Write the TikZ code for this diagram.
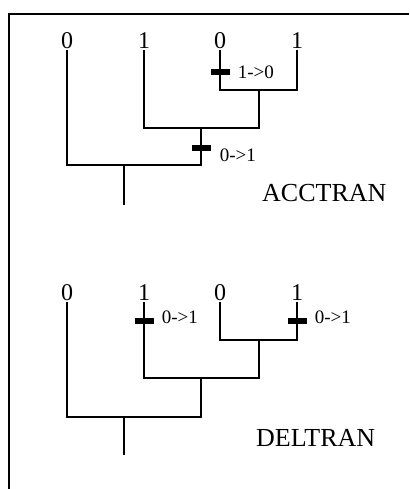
\documentclass[tikz,border=0pt]{standalone}
\usepackage{fontspec}
\setmainfont{Liberation Serif}
\usepackage{tikz}
\usetikzlibrary{positioning}

\begin{document}
\begin{tikzpicture}[
        x=1pt, y=-1pt,
        state/.style={
            inner sep=1pt,
            anchor=south,
            font=\fontsize{24}{24}\selectfont
        },
        branch/.style={
            line width=2pt
        },
        tickbar/.style={
            fill=black,
            inner sep=0pt,
            minimum width=19pt,
            minimum height=6pt
        },
        change/.style={
            anchor=west,
            inner sep=0pt,
            font=\fontsize{19}{19}\selectfont
        },
        method/.style={
            anchor=west,
            inner sep=0pt,
            font=\fontsize{26}{26}\selectfont
        }
    ]
    \useasboundingbox (0,0) rectangle (409,489);

    % frame
    \draw[line width=2.5pt] (9,489) -- (9,14) -- (409,14);

    % ACCTRAN tree
    \node[state] (a1) at (67,50) {0};
    \node[state] (a2) at (144,50) {1};
    \node[state] (a3) at (220,50) {0};
    \node[state] (a4) at (297,50) {1};
    \coordinate (an1) at (259,90);
    \coordinate (an2) at (201,128);
    \coordinate (an3) at (124,165);
    \coordinate (aroot) at (124,205);

    \draw[branch] (a3.south) |- (an1) -| (a4.south);
    \draw[branch] (an1) |- (an2) -| (a2.south);
    \draw[branch] (an2) |- (an3) -| (a1.south);
    \draw[branch] (an3) -- (aroot);

    \node[tickbar] (am1) at (220,72) {};
    \node[change, right=8pt of am1] (ac1) {1->0};
    \node[tickbar] (am2) at (201,148) {};
    \node[change, right=9pt of am2, yshift=-7pt] (ac2) {0->1};

    \node[method] (acc) at (262,193) {ACCTRAN};

    % DELTRAN tree
    \node[state] (d1) at (67,302) {0};
    \node[state] (d2) at (144,302) {1};
    \node[state] (d3) at (220,302) {0};
    \node[state] (d4) at (297,302) {1};
    \coordinate (dn1) at (259,340);
    \coordinate (dn2) at (201,378);
    \coordinate (dn3) at (124,417);
    \coordinate (droot) at (124,455);

    \draw[branch] (d3.south) |- (dn1) -| (d4.south);
    \draw[branch] (dn1) |- (dn2) -| (d2.south);
    \draw[branch] (dn2) |- (dn3) -| (d1.south);
    \draw[branch] (dn3) -- (droot);

    \node[tickbar] (dm1) at (144,321) {};
    \node[change, right=8pt of dm1, yshift=4pt] (dc1) {0->1};
    \node[tickbar] (dm2) at (297,321) {};
    \node[change, right=8pt of dm2, yshift=4pt] (dc2) {0->1};

    \node[method] (del) at (256,438) {DELTRAN};

    \end{tikzpicture}
\end{document}
